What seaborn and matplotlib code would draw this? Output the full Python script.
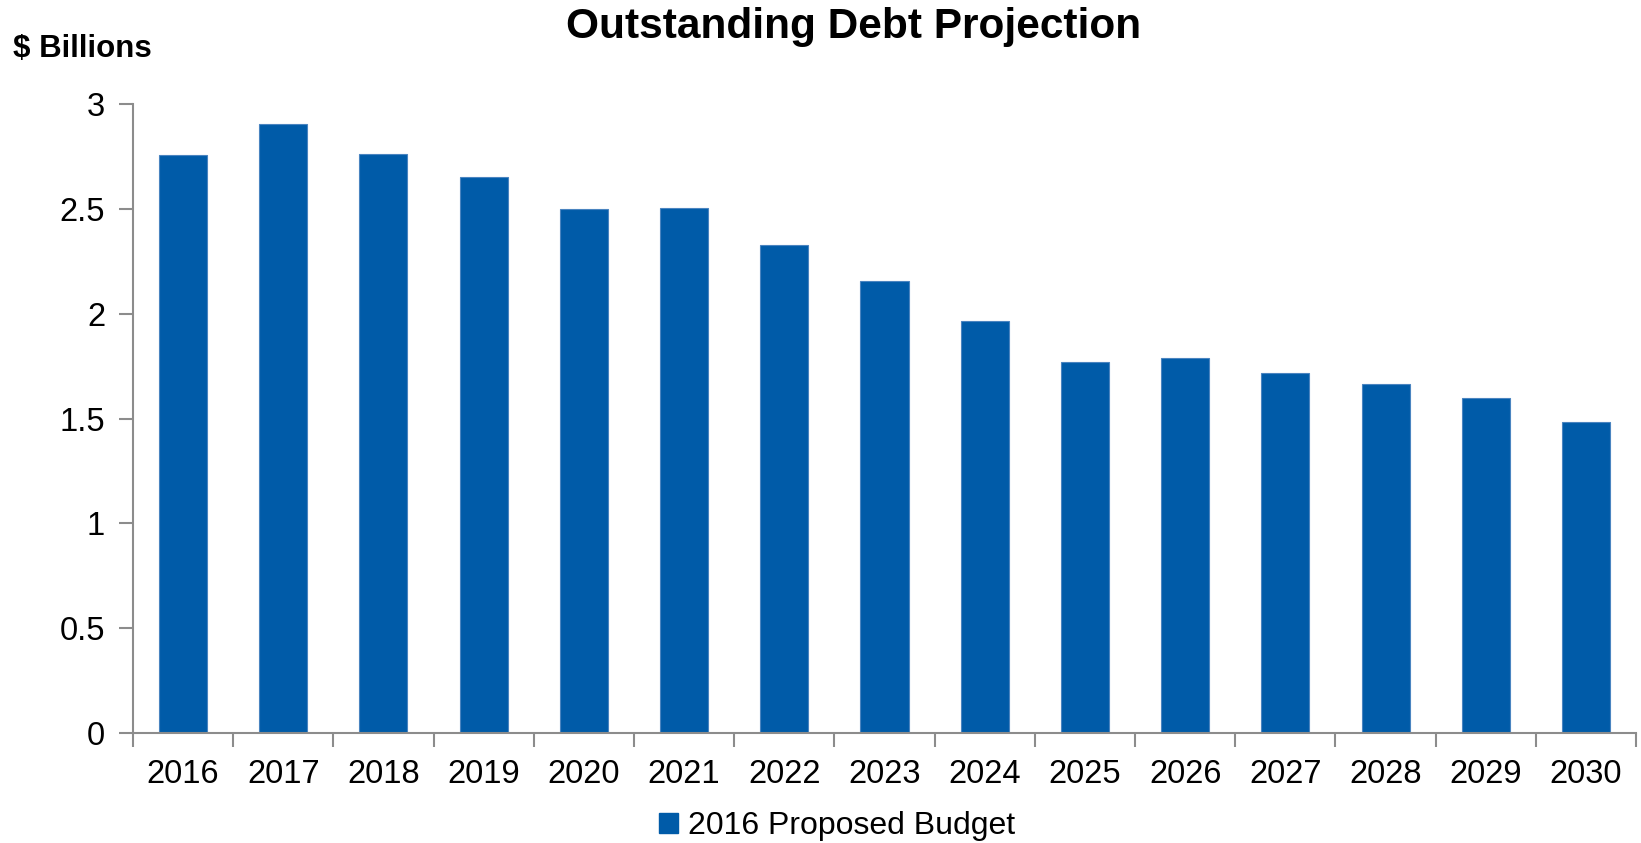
import numpy as np
import pandas as pd
import matplotlib
matplotlib.use("Agg")
import matplotlib.pyplot as plt
import seaborn as sns
from matplotlib.ticker import FixedLocator
from matplotlib.patches import Patch

# values ($ billions)
years = ['2016', '2017', '2018', '2019', '2020', '2021', '2022', '2023',
         '2024', '2025', '2026', '2027', '2028', '2029', '2030']
debt = [2.755, 2.905, 2.76, 2.65, 2.50, 2.505, 2.33, 2.155,
        1.965, 1.77, 1.79, 1.718, 1.666, 1.597, 1.483]
series_name = '2016 Proposed Budget'
y_ticks = [0, 0.5, 1, 1.5, 2, 2.5, 3]
y_tick_labels = ['0', '0.5', '1', '1.5', '2', '2.5', '3']

df = pd.DataFrame({'year': years, 'debt': debt})

sns.set_style('white')
plt.rcParams['font.family'] = ['Liberation Sans', 'DejaVu Sans']
plt.rcParams['text.color'] = 'black'
plt.rcParams['xtick.labelcolor'] = 'black'
plt.rcParams['ytick.labelcolor'] = 'black'

bar_color = '#005BA8'
axis_gray = '#8C8C8C'

fig = plt.figure(figsize=(16.41, 8.43), dpi=100)
ax = fig.add_axes([0.081, 0.1305, 0.916, 0.746])

sns.barplot(data=df, x='year', y='debt', color=bar_color, width=0.48,
            saturation=1, edgecolor='#4A84C0', linewidth=0.8, ax=ax)

ax.set_xlim(-0.5, len(years) - 0.5)
ax.set_ylim(0, 3)
ax.set_yticks(y_ticks)
ax.set_yticklabels(y_tick_labels)
ax.set_xlabel('')
ax.set_ylabel('')

# x ticks sit between the categories, labels at the centers
ax.xaxis.set_minor_locator(FixedLocator(np.arange(-0.5, len(years), 1)))
ax.tick_params(axis='x', which='major', length=0, pad=19, labelsize=23.5)
ax.tick_params(axis='x', which='minor', length=10, width=1.5, color=axis_gray,
               direction='out', bottom=True)
ax.tick_params(axis='y', which='major', length=10, width=1.5, color=axis_gray,
               direction='out', left=True, pad=10, labelsize=23.5)

sns.despine(ax=ax, top=True, right=True)
for side in ['left', 'bottom']:
    ax.spines[side].set_color(axis_gray)
    ax.spines[side].set_linewidth(1.5)

fig.text(0.52, 0.968, 'Outstanding Debt Projection', ha='center', va='center',
         fontsize=30.5, fontweight='bold')
fig.text(0.008, 0.942, '$ Billions', ha='left', va='center',
         fontsize=22.5, fontweight='bold')

handle = Patch(facecolor=bar_color, edgecolor=bar_color)
fig.legend([handle], [series_name], loc='center', bbox_to_anchor=(0.51, 0.02),
           frameon=False, fontsize=23, handlelength=0.6, handleheight=0.6,
           handletextpad=0.3, borderpad=0)

fig.savefig('out.png', dpi=100)
